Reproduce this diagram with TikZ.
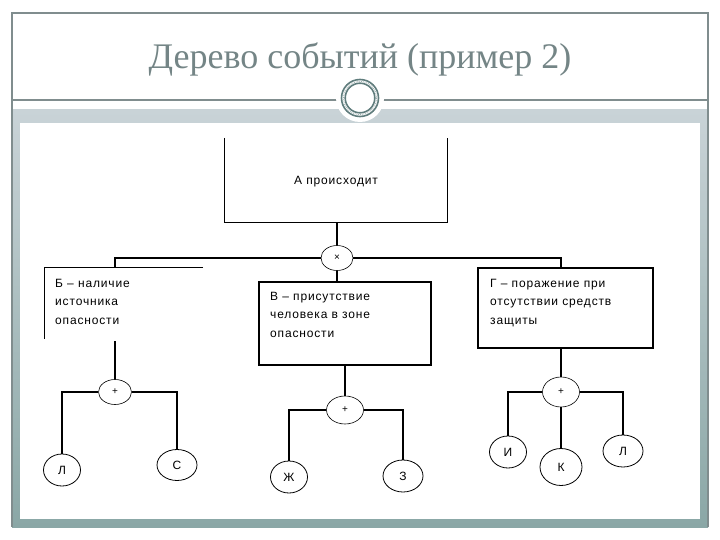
\documentclass[tikz,border=0pt]{standalone}
\usepackage{fontspec}
\setmainfont{Liberation Serif}
\newfontfamily\sansru[LetterSpace=7]{Liberation Sans}
\newfontfamily\sansleaf{Liberation Sans}
\usetikzlibrary{shapes.geometric,calc}
\definecolor{framegray}{HTML}{808D8E}
\definecolor{titlegray}{HTML}{748586}
\definecolor{bandtop}{HTML}{C9D3D7}
\definecolor{bandbot}{HTML}{8AA7A6}
\definecolor{ringteal}{HTML}{5F7C7C}
\tikzset{
  conn/.style={draw=black, line width=1.1pt},
  evbox/.style={draw=black, line width=1.1pt, inner sep=0pt},
  ghostbox/.style={inner sep=0pt},
  gate/.style={ellipse, draw=black, line width=0.6pt, inner sep=0pt, font=\sansleaf\fontsize{10}{10}\selectfont},
  leaf/.style={ellipse, draw=black, line width=0.8pt, inner sep=0pt, font=\sansleaf\fontsize{12}{12}\selectfont},
  boxtext/.style={anchor=north west, inner sep=0pt, align=left, font=\sansru\fontsize{12}{18.5}\selectfont},
}
\begin{document}
\begin{tikzpicture}[x=1pt,y=-1pt]
\useasboundingbox (0,0) rectangle (720,540);
\fill[white] (0,0) rectangle (720,540);
% slide frame
\shade[top color=bandtop, bottom color=bandbot] (12,110) rectangle (708,527);
\fill[white] (20,123) rectangle (700,519);
\draw[framegray, line width=1.2pt] (12,527) -- (12,13) -- (708,13) -- (708,527);
\draw[framegray, line width=1.2pt] (12,100) -- (708,100);
\fill[white] (360,98) circle (24);
\draw[ringteal, line width=1.6pt] (360,98) circle (18.5);
\draw[ringteal, line width=1.6pt] (360,98) circle (14.8);
\draw[ringteal!60, line width=0.8pt, densely dotted] (360,98) circle (16.6);
\node[font=\fontsize{36}{36}\selectfont, text=titlegray] (title) at (360,59) {Дерево событий (пример 2)};

% top event
\node[ghostbox, minimum width=222pt, minimum height=84pt] (A) at (336,180) {};
\draw[conn] (A.north west) -- (A.south west) -- (A.south east) -- (A.north east);
\node[inner sep=0pt, font=\sansru\fontsize{12}{12}\selectfont] (Atext) at (336,182) {А происходит};
\node[gate, minimum width=32pt, minimum height=25pt] (times) at (337,258) {×};
\draw[conn] (A.south -| times) -- (times.north);

% second level
\node[ghostbox, minimum width=158pt, minimum height=73pt] (B) at (124,304.5) {};
\draw[conn] (B.north east) -- (B.north west) -- ($(B.south west)+(0,-2)$);
\node[boxtext] (Btext) at (55,279) {Б – наличие\\источника\\опасности};

\node[evbox, minimum width=172pt, minimum height=83pt] (V) at (345,323.5) {};
\node[boxtext] (Vtext) at (270,292) {В – присутствие\\человека в зоне\\опасности};

\node[evbox, minimum width=175pt, minimum height=80pt] (G) at (565.5,308) {};
\node[boxtext] (Gtext) at (490,279) {Г – поражение при\\отсутствии средств\\защиты};

% gates
\node[gate, minimum width=33pt, minimum height=25pt] (Bplus) at (115,392) {+};
\node[gate, minimum width=37pt, minimum height=28pt] (Vplus) at (345,410) {+};
\node[gate, minimum width=37pt, minimum height=30pt] (Gplus) at (561,392) {+};

\draw[conn] (times.west) -| (Bplus |- B.north);
\draw[conn] (times.east) -| (Gplus |- G.north);
\draw[conn] (times.south) -- (times |- V.north);
\draw[conn] (Bplus |- B.south) -- (Bplus.north);
\draw[conn] (Vplus |- V.south) -- (Vplus.north);
\draw[conn] (Gplus |- G.south) -- (Gplus.north);

% leaves
\node[leaf, minimum width=37pt, minimum height=32pt] (L1) at (62,470) {Л};
\node[leaf, minimum width=40pt, minimum height=31pt] (S) at (177,465) {С};
\node[leaf, minimum width=37pt, minimum height=32pt] (Zh) at (289,477) {Ж};
\node[leaf, minimum width=40pt, minimum height=32pt] (Z) at (403,476) {З};
\node[leaf, minimum width=37pt, minimum height=32pt] (I) at (508,452) {И};
\node[leaf, minimum width=42pt, minimum height=37pt] (K) at (561,467) {К};
\node[leaf, minimum width=40pt, minimum height=32pt] (L2) at (623,451) {Л};

\draw[conn] (Bplus.west) -| (L1.north);
\draw[conn] (Bplus.east) -| (S.north);
\draw[conn] (Vplus.west) -| (Zh.north);
\draw[conn] (Vplus.east) -| (Z.north);
\draw[conn] (Gplus.west) -| (I.north);
\draw[conn] (Gplus.south) -- (K.north);
\draw[conn] (Gplus.east) -| (L2.north);
\end{tikzpicture}
\end{document}
